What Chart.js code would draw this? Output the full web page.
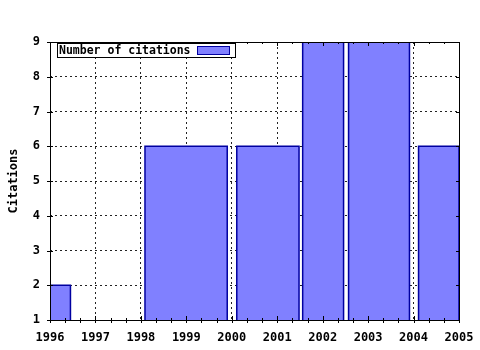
<!DOCTYPE html>
<html>
<head>
<meta charset="utf-8">
<script src="https://cdn.jsdelivr.net/npm/chart.js@4.4.1/dist/chart.umd.min.js"></script>
<style>body{margin:0;background:#fff}</style>
</head>
<body>
<canvas id="citations_chart" width="480" height="350" style="width:480px;height:350px"></canvas>
<script>
// data block
const barStart = [1996, 1998.09, 2000.11, 2001.56, 2002.57, 2004.11];
const barEnd = [1996.45, 1999.9, 2001.48, 2002.46, 2003.91, 2005];
const citations = [2, 6, 6, 9, 9, 6];
const yearTicks = [1996, 1997, 1998, 1999, 2000, 2001, 2002, 2003, 2004, 2005];
const citationTicks = [1, 2, 3, 4, 5, 6, 7, 8, 9];
const legendLabel = 'Number of citations';

const FONT = { family: "'DejaVu Sans Mono', monospace", size: 12, weight: 'bold' };
const FILL = '#8080ff';
const EDGE = '#0000a0';

// each bar is a closed outline drawn by the line controller and filled down to the axis
const datasets = citations.map((c, i) => ({
    label: legendLabel,
    data: [
        { x: barStart[i], y: 1 },
        { x: barStart[i], y: c },
        { x: barEnd[i], y: c },
        { x: barEnd[i], y: 1 }
    ],
    showLine: true,
    fill: 'start',
    backgroundColor: FILL,
    borderColor: EDGE,
    borderWidth: 1.5,
    pointRadius: 0,
    tension: 0
}));

// frame, ticks and the boxed legend, gnuplot style
const framePlugin = {
    id: 'frame',
    afterDraw(chart) {
        const { ctx, chartArea: a, scales } = chart;
        ctx.save();
        ctx.strokeStyle = '#000';
        ctx.lineWidth = 1;
        ctx.setLineDash([]);
        ctx.beginPath();
        // major + minor x ticks, bottom and top
        const last = yearTicks[yearTicks.length - 1];
        for (let y = yearTicks[0]; y <= last; y += 1) {
            for (let k = 0; k < 3; k++) {
                const v = y + k / 3;
                if (v > last) break;
                const px = Math.round(scales.x.getPixelForValue(v)) + 0.5;
                const inn = k === 0 ? 4 : 2;
                ctx.moveTo(px, a.bottom + 3); ctx.lineTo(px, a.bottom - inn);
                ctx.moveTo(px, a.top); ctx.lineTo(px, a.top + inn);
            }
        }
        citationTicks.forEach(v => {
            const py = Math.round(scales.y.getPixelForValue(v)) + 0.5;
            ctx.moveTo(a.left - 3, py); ctx.lineTo(a.left + 3, py);
            ctx.moveTo(a.right, py); ctx.lineTo(a.right - 3, py);
        });
        ctx.stroke();
        ctx.strokeRect(Math.round(a.left) + 0.5, Math.round(a.top) + 0.5,
            Math.round(a.right - a.left), Math.round(a.bottom - a.top));

        // legend
        const lx = 57.5, ly = 43.5, lw = 178, lh = 14;
        ctx.fillStyle = '#fff';
        ctx.fillRect(lx, ly, lw, lh);
        ctx.strokeRect(lx, ly, lw, lh);
        ctx.fillStyle = '#000';
        ctx.font = `bold 11.5px ${FONT.family}`;
        ctx.textBaseline = 'middle';
        ctx.fillText(legendLabel, 59, ly + lh / 2 + 1);
        ctx.fillStyle = FILL;
        ctx.fillRect(197.5, 46.5, 32, 8);
        ctx.strokeStyle = EDGE;
        ctx.strokeRect(197.5, 46.5, 32, 8);
        ctx.restore();
    }
};

const config = {
    type: 'scatter',
    data: { datasets },
    options: {
        responsive: false,
        animation: false,
        events: [],
        layout: { padding: { top: 42, right: 21, left: 0, bottom: 0 } },
        plugins: { legend: { display: false }, tooltip: { enabled: false } },
        scales: {
            x: {
                type: 'linear',
                min: yearTicks[0],
                max: yearTicks[yearTicks.length - 1],
                afterBuildTicks: s => { s.ticks = yearTicks.map(v => ({ value: v })); },
                afterFit: s => { s.height = 30; s.paddingLeft = 0; s.paddingRight = 0; },
                ticks: { color: '#000', font: FONT, padding: 11, maxRotation: 0, autoSkip: false, callback: v => String(v) },
                grid: { color: '#222', lineWidth: 1, drawTicks: false },
                border: { display: false, dash: [2, 3] }
            },
            y: {
                type: 'linear',
                min: citationTicks[0],
                max: citationTicks[citationTicks.length - 1],
                afterBuildTicks: s => { s.ticks = citationTicks.map(v => ({ value: v })); },
                afterFit: s => { s.width = 50; s.paddingTop = 0; s.paddingBottom = 0; },
                ticks: { color: '#000', font: FONT, padding: 10, callback: v => String(v) },
                grid: { color: '#222', lineWidth: 1, drawTicks: false },
                border: { display: false, dash: [2, 3] },
                title: { display: true, text: 'Citations', color: '#000', font: FONT, padding: { top: 7, bottom: 0 } }
            }
        }
    },
    plugins: [framePlugin]
};

const citationsChart = new Chart(document.getElementById('citations_chart'), config);
</script>
</body>
</html>
